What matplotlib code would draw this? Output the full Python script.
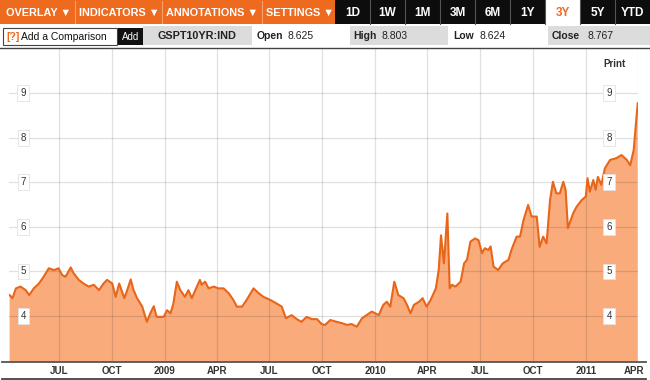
import matplotlib
matplotlib.use("Agg")
import matplotlib.pyplot as plt
import matplotlib.transforms as mtransforms
from matplotlib.patches import Rectangle
from matplotlib.lines import Line2D
import pandas as pd

W, H = 650, 380

ORANGE = "#EE6A1F"
ORANGE_LINE = "#E8661A"
ORANGE_FILL = "#F9AB7C"
GRAY_BOX = "#DCDCDC"
TEXT = "#333333"
FONT = ["Liberation Sans", "DejaVu Sans"]

# data (GSPT10YR:IND, 3Y view)
dates = [
    "2008-04-07", "2008-04-12", "2008-04-18", "2008-04-26", "2008-05-05", "2008-05-11",
    "2008-05-19", "2008-05-28", "2008-06-05", "2008-06-14", "2008-06-23", "2008-07-01",
    "2008-07-07", "2008-07-13", "2008-07-22", "2008-07-27", "2008-08-05", "2008-08-13",
    "2008-08-22", "2008-08-31", "2008-09-09", "2008-09-17", "2008-09-23", "2008-10-02",
    "2008-10-08", "2008-10-14", "2008-10-19", "2008-10-23", "2008-10-28", "2008-11-03",
    "2008-11-08", "2008-11-14", "2008-11-23", "2008-12-01", "2008-12-07", "2008-12-13",
    "2008-12-18", "2008-12-25", "2008-12-30", "2009-01-05", "2009-01-11", "2009-01-16",
    "2009-01-22", "2009-01-28", "2009-02-05", "2009-02-11", "2009-02-17", "2009-02-23",
    "2009-03-03", "2009-03-06", "2009-03-12", "2009-03-18", "2009-03-27", "2009-04-04",
    "2009-04-13", "2009-04-22", "2009-04-30", "2009-05-06", "2009-05-15", "2009-05-23",
    "2009-06-04", "2009-06-13", "2009-06-21", "2009-07-03", "2009-07-14", "2009-07-23",
    "2009-07-30", "2009-08-09", "2009-08-18", "2009-08-26", "2009-09-04", "2009-09-13",
    "2009-09-22", "2009-09-30", "2009-10-06", "2009-10-15", "2009-10-26", "2009-11-04",
    "2009-11-13", "2009-11-21", "2009-11-30", "2009-12-09", "2009-12-17", "2009-12-26",
    "2010-01-07", "2010-01-15", "2010-01-21", "2010-01-27", "2010-02-03", "2010-02-10",
    "2010-02-19", "2010-02-25", "2010-03-03", "2010-03-09", "2010-03-18", "2010-03-24",
    "2010-03-31", "2010-04-07", "2010-04-16", "2010-04-21", "2010-04-25", "2010-04-30",
    "2010-05-06", "2010-05-10", "2010-05-14", "2010-05-20", "2010-05-29", "2010-06-04",
    "2010-06-09", "2010-06-15", "2010-06-23", "2010-06-29", "2010-07-05", "2010-07-10",
    "2010-07-16", "2010-07-20", "2010-07-25", "2010-08-02", "2010-08-10", "2010-08-20",
    "2010-08-25", "2010-09-03", "2010-09-09", "2010-09-15", "2010-09-23", "2010-09-29",
    "2010-10-08", "2010-10-13", "2010-10-19", "2010-10-25", "2010-10-31", "2010-11-05",
    "2010-11-11", "2010-11-17", "2010-11-23", "2010-11-27", "2010-12-01", "2010-12-10",
    "2010-12-16", "2010-12-25", "2011-01-01", "2011-01-04", "2011-01-08", "2011-01-14",
    "2011-01-18", "2011-01-22", "2011-01-28", "2011-02-03", "2011-02-12", "2011-02-23",
    "2011-03-04", "2011-03-13", "2011-03-19", "2011-03-25", "2011-03-28", "2011-04-01",
]
yields = [
    4.47, 4.40, 4.62, 4.66, 4.58, 4.47,
    4.62, 4.73, 4.88, 5.07, 5.03, 5.07,
    4.92, 4.88, 5.09, 4.96, 4.81, 4.73,
    4.66, 4.70, 4.58, 4.73, 4.81, 4.73,
    4.43, 4.73, 4.55, 4.40, 4.58, 4.82,
    4.58, 4.40, 4.21, 3.87, 4.06, 4.22,
    3.98, 3.98, 3.98, 4.13, 4.06, 4.28,
    4.77, 4.58, 4.43, 4.58, 4.40, 4.58,
    4.81, 4.70, 4.77, 4.62, 4.66, 4.62,
    4.62, 4.51, 4.36, 4.21, 4.21, 4.36,
    4.62, 4.51, 4.43, 4.36, 4.28, 4.21,
    3.95, 4.02, 3.93, 3.87, 3.98, 3.93,
    3.93, 3.82, 3.80, 3.91, 3.87, 3.84,
    3.80, 3.82, 3.76, 3.95, 4.02, 4.10,
    4.02, 4.25, 4.32, 4.21, 4.77, 4.47,
    4.40, 4.25, 4.06, 4.25, 4.32, 4.40,
    4.21, 4.36, 4.62, 5.03, 5.81, 5.18,
    6.30, 4.62, 4.70, 4.66, 4.77, 5.18,
    5.26, 5.67, 5.74, 5.70, 5.41, 5.52,
    5.48, 5.56, 5.11, 5.03, 5.18, 5.26,
    5.48, 5.78, 5.78, 6.15, 6.49, 6.23,
    6.23, 5.55, 5.78, 5.63, 6.60, 7.01,
    6.75, 6.75, 7.01, 6.83, 5.97, 6.30,
    6.45, 6.60, 6.68, 7.09, 6.79, 7.05,
    6.83, 7.12, 6.94, 7.31, 7.50, 7.54,
    7.61, 7.50, 7.38, 7.72, 8.17, 8.77,
]

tick_dates = ["2008-07-01", "2008-10-01", "2009-01-01", "2009-04-01", "2009-07-01",
              "2009-10-01", "2010-01-01", "2010-04-01", "2010-07-01", "2010-10-01",
              "2011-01-01", "2011-04-01"]
tick_labels = ["JUL", "OCT", "2009", "APR", "JUL", "OCT", "2010", "APR", "JUL", "OCT",
               "2011", "APR"]
y_ticks = [4, 5, 6, 7, 8, 9]

menus = ["OVERLAY \u25bc", "INDICATORS \u25bc", "ANNOTATIONS \u25bc", "SETTINGS \u25bc"]
ranges = ["1D", "1W", "1M", "3M", "6M", "1Y", "3Y", "5Y", "YTD"]
active_range = "3Y"
ticker = "GSPT10YR:IND"
quote = {"Open": "8.625", "High": "8.803", "Low": "8.624", "Close": "8.767"}

plt.rcParams['font.family'] = FONT


def fx(px):
    return px / W


def fy(py):
    return 1 - py / H


def rect(fig, x0, y0, x1, y1, color, ec="none", lw=0):
    fig.add_artist(Rectangle((fx(x0), fy(y1)), (x1 - x0) / W, (y1 - y0) / H,
                             transform=fig.transFigure, facecolor=color,
                             edgecolor=ec, linewidth=lw))


def hline(fig, x0, x1, y, color, lw):
    fig.add_artist(Line2D([fx(x0), fx(x1)], [fy(y), fy(y)], transform=fig.transFigure,
                          color=color, linewidth=lw))


def vline(fig, x, y0, y1, color, lw):
    fig.add_artist(Line2D([fx(x), fx(x)], [fy(y0), fy(y1)], transform=fig.transFigure,
                          color=color, linewidth=lw))


fig = plt.figure(figsize=(W / 100, H / 100), dpi=100)
fig.patch.set_facecolor("white")

# --- toolbar ---
rect(fig, 0, 0, 335, 24, ORANGE)
menu_x = [6, 79, 166, 266]
for x, m in zip(menu_x, menus):
    fig.text(fx(x), fy(12.5), m, color="white", fontsize=7.8, fontweight="bold",
             ha="left", va="center")
for x in [75, 162, 262]:
    vline(fig, x, 1, 23, "#F6A26C", 0.8)

rect(fig, 335, 0, 650, 24, "#0D0D0D")
for i, r in enumerate(ranges):
    x0 = 335 + 35 * i
    if r == active_range:
        rect(fig, x0, 0, x0 + 35, 24, "white")
        col = ORANGE
    else:
        col = "white"
    if i > 0:
        vline(fig, x0, 0, 24, "#555555", 0.8)
    fig.text(fx(x0 + 17.5), fy(12.5), r, color=col, fontsize=8.5, fontweight="bold",
             ha="center", va="center")

# --- comparison / quote row ---
rect(fig, 3, 28, 117, 45, "white", ec="#444444", lw=0.8)
fig.text(fx(6), fy(36.5), "[?]", color=ORANGE, fontsize=7.5, fontweight="bold",
         ha="left", va="center")
fig.text(fx(21), fy(36.5), "Add a Comparison", color="#111111", fontsize=7.5,
         ha="left", va="center")
rect(fig, 118, 28, 143, 45, "#111111")
fig.text(fx(130.5), fy(36.5), "Add", color="white", fontsize=7, ha="center", va="center")
rect(fig, 143, 26, 252, 45, GRAY_BOX)
fig.text(fx(197), fy(36), ticker, color="#222222", fontsize=7.8, fontweight="bold",
         ha="center", va="center")

quote_pos = {"Open": (257, 287, None), "High": (353, 382, (350, 448)),
             "Low": (453, 479, None), "Close": (552, 588, (548, 650))}
for k, v in quote.items():
    x_lab, x_val, box = quote_pos[k]
    if box:
        rect(fig, box[0], 26, box[1], 45, GRAY_BOX)
    fig.text(fx(x_lab), fy(36), k, color="#222222", fontsize=7.5, fontweight="bold",
             ha="left", va="center")
    fig.text(fx(x_val), fy(36), v, color="#222222", fontsize=7.5, ha="left", va="center")

hline(fig, 0, 650, 47.5, "#444444", 1.0)

# --- chart ---
x = pd.to_datetime(dates)
ax = fig.add_axes([fx(9), fy(361.5), (638 - 9) / W, (361.5 - 48) / H])
ax.fill_between(x, 0, yields, color=ORANGE_FILL, linewidth=0, zorder=1)
ax.plot(x, yields, color=ORANGE_LINE, linewidth=1.5, zorder=3)

ax.set_xlim(pd.Timestamp("2008-04-06"), pd.Timestamp("2011-04-01 12:00"))
ax.set_ylim(2.98, 10.01)
for s in ax.spines.values():
    s.set_visible(False)

ax.set_xticks(pd.to_datetime(tick_dates))
ax.set_xticklabels(tick_labels)
ax.set_yticks(y_ticks)
ax.set_yticklabels([])
ax.tick_params(axis="both", length=0)
ax.tick_params(axis="x", pad=3, labelsize=7, labelcolor=TEXT)
for lab in ax.get_xticklabels():
    lab.set_fontweight("bold")
# last label sits against the right edge, pull it in a little
last = ax.get_xticklabels()[-1]
last.set_transform(last.get_transform() +
                   mtransforms.ScaledTranslation(-4 / 100, 0, fig.dpi_scale_trans))
ax.set_axisbelow(False)
ax.grid(True, color="black", alpha=0.12, linewidth=0.9, zorder=2)

for v in y_ticks:
    for xa in (0.0225, 0.954):
        ax.text(xa, v, str(v), transform=ax.get_yaxis_transform(), fontsize=7,
                color=TEXT, ha="center", va="center", zorder=5,
                bbox=dict(boxstyle="square,pad=0.3", facecolor="white",
                          edgecolor="#E2E2E2", linewidth=0.6))

fig.text(fx(614), fy(64), "Print", color=TEXT, fontsize=7, fontweight="bold",
         ha="center", va="center")

hline(fig, 2, 646, 361.5, "#555555", 1.3)
hline(fig, 2, 646, 379, "#444444", 1.3)

fig.savefig("out.png", dpi=100)
